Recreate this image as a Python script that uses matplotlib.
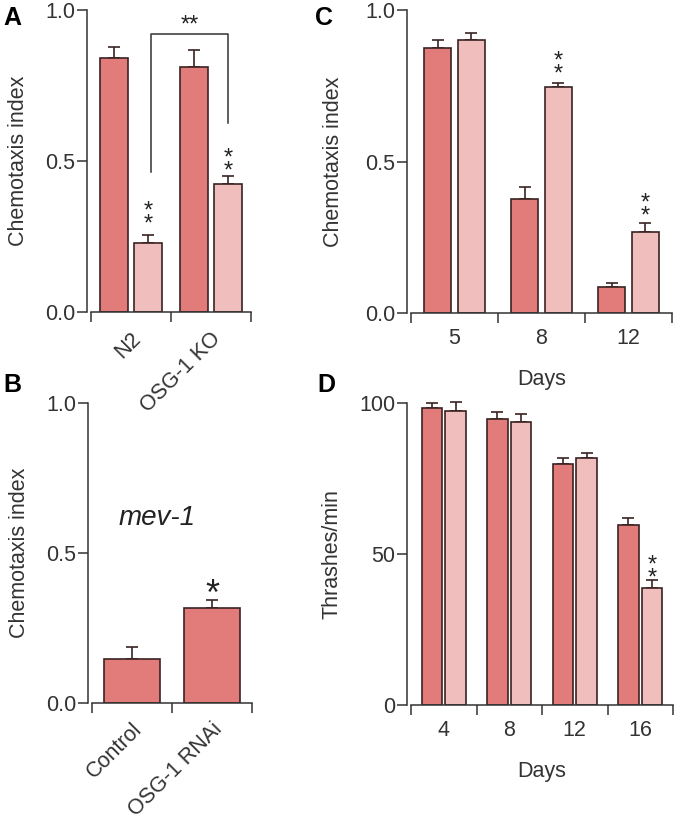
import numpy as np
import matplotlib
matplotlib.use('Agg')
import matplotlib.pyplot as plt

plt.rcParams['font.family'] = ['Liberation Sans', 'DejaVu Sans']

# Panel A - chemotaxis index
a_groups = ['N2', 'OSG-1 KO']
a_dark = [0.84, 0.81]
a_dark_err = [0.037, 0.058]
a_light = [0.228, 0.424]
a_light_err = [0.027, 0.026]

# Panel B - mev-1 background
b_groups = ['Control', 'OSG-1 RNAi']
b_vals = [0.147, 0.316]
b_err = [0.04, 0.027]

# Panel C - chemotaxis index by day
c_days = ['5', '8', '12']
c_dark = [0.875, 0.376, 0.086]
c_dark_err = [0.025, 0.039, 0.014]
c_light = [0.90, 0.745, 0.268]
c_light_err = [0.024, 0.015, 0.028]

# Panel D - thrashing by day
d_days = ['4', '8', '12', '16']
d_dark = [98.3, 94.7, 79.8, 59.6]
d_dark_err = [1.7, 2.3, 2.0, 2.4]
d_light = [97.4, 93.7, 81.8, 38.7]
d_light_err = [3.0, 2.7, 1.6, 2.7]

DARK = '#e27c7a'
LIGHT = '#f1bebe'
EDGE = '#3a2222'
TXT = '#333333'
W, H = 677, 827
FS = 15.5

fig = plt.figure(figsize=(W / 100, H / 100), dpi=100)


def px_axes(x0, x1, ytop, ybot):
    return fig.add_axes([x0 / W, 1 - ybot / H, (x1 - x0) / W, (ybot - ytop) / H])


def style(ax, ngroups, ymax, yticks, yticklabels, labels, rotate=False):
    ax.set_xlim(0, ngroups)
    ax.set_ylim(0, ymax)
    for s in ['top', 'right']:
        ax.spines[s].set_visible(False)
    ax.spines['left'].set_position(('outward', 3))
    ax.spines['left'].set_bounds(0, ymax)
    for s in ['left', 'bottom']:
        ax.spines[s].set_color(TXT)
        ax.spines[s].set_linewidth(1.1)
    ax.set_yticks(yticks)
    ax.set_yticklabels(yticklabels)
    ax.set_xticks(np.arange(ngroups + 1))
    ax.set_xticklabels([])
    ax.tick_params(axis='y', length=7, width=1.1, color=TXT, labelsize=FS, labelcolor=TXT, pad=1.5)
    ax.tick_params(axis='x', which='major', length=7, width=1.1, color=TXT)
    centers = np.arange(ngroups) + 0.5
    if rotate:
        # rotated category names, hung from the group centres
        for xc, lab in zip(centers, labels):
            ax.annotate(lab, (xc, 0), xycoords=('data', 'axes fraction'),
                        xytext=(5, -17), textcoords='offset points',
                        rotation=45, ha='right', va='center', rotation_mode='anchor',
                        fontsize=FS, color=TXT, annotation_clip=False)
    else:
        ax.set_xticks(centers, minor=True)
        ax.set_xticklabels(labels, minor=True)
        ax.tick_params(axis='x', which='minor', length=0, labelsize=FS, labelcolor=TXT, pad=11)
    ax.patch.set_alpha(0)


def pair_bars(ax, dark, dark_err, light, light_err, off, width):
    x = np.arange(len(dark)) + 0.5
    for xs, v, e, c in [(x - off, dark, dark_err, DARK), (x + off, light, light_err, LIGHT)]:
        ax.errorbar(xs, v, yerr=[np.zeros(len(v)), e], fmt='none', ecolor=EDGE,
                    elinewidth=1.2, capsize=4, capthick=1.2, clip_on=False, zorder=1)
        ax.bar(xs, v, width=width, color=c, edgecolor=EDGE, linewidth=1.2, zorder=2)
    return x


def star(ax, x, y, s='*', size=17):
    # an asterisk sits high in its glyph box, so pull it down onto the anchor
    ax.annotate(s, (x, y), xytext=(0, -0.34 * size), textcoords='offset points',
                ha='center', va='center', fontsize=size, color='#222222', linespacing=0.5)


def stars(ax, x, y):
    # two stacked asterisks
    star(ax, x, y, '*\n*')


# A
axA = px_axes(91, 251, 10, 312)
xa = pair_bars(axA, a_dark, a_dark_err, a_light, a_light_err, 0.218, 0.35)
style(axA, 2, 1.0, [0, 0.5, 1.0], ['0.0', '0.5', '1.0'], a_groups, rotate=True)
axA.set_ylabel('Chemotaxis index', fontsize=FS, color=TXT, labelpad=11.5)
stars(axA, xa[0] + 0.218, 0.338)
stars(axA, xa[1] + 0.218, 0.513)
bl, br = xa[0] + 0.25, xa[1] + 0.218
axA.plot([bl, bl, br, br], [0.464, 0.92, 0.92, 0.626], color=TXT, lw=1.1, clip_on=False)
axA.annotate('**', ((bl + br) / 2, 0.975), xytext=(0, -5.5), textcoords='offset points',
             ha='center', va='center', fontsize=17, color='#222222')

# B
axB = px_axes(92, 252, 403, 703)
xb = np.arange(len(b_vals)) + 0.5
axB.errorbar(xb, b_vals, yerr=[np.zeros(2), b_err], fmt='none', ecolor=EDGE,
             elinewidth=1.2, capsize=4, capthick=1.2, zorder=1)
axB.bar(xb, b_vals, width=0.71, color=DARK, edgecolor=EDGE, linewidth=1.2, zorder=2)
style(axB, 2, 1.0, [0, 0.5, 1.0], ['0.0', '0.5', '1.0'], b_groups, rotate=True)
axB.set_ylabel('Chemotaxis index', fontsize=FS, color=TXT, labelpad=11.5)
axB.text(0.81, 0.617, 'mev-1', fontsize=20, style='italic', ha='center', va='center', color='#222222')
star(axB, xb[1], 0.40, size=26)

# C
axC = px_axes(411, 672, 10, 313)
xc = pair_bars(axC, c_dark, c_dark_err, c_light, c_light_err, 0.19, 0.31)
style(axC, 3, 1.0, [0, 0.5, 1.0], ['0.0', '0.5', '1.0'], c_days)
axC.set_ylabel('Chemotaxis index', fontsize=FS, color=TXT, labelpad=15)
axC.set_xlabel('Days', fontsize=FS, color=TXT, labelpad=14)
stars(axC, xc[1] + 0.19, 0.835)
stars(axC, xc[2] + 0.19, 0.366)

# D
axD = px_axes(411, 673, 403, 705)
xd = pair_bars(axD, d_dark, d_dark_err, d_light, d_light_err, 0.18, 0.31)
style(axD, 4, 100, [0, 50, 100], ['0', '50', '100'], d_days)
axD.set_ylabel('Thrashes/min', fontsize=FS, color=TXT, labelpad=12)
axD.set_xlabel('Days', fontsize=FS, color=TXT, labelpad=14)
stars(axD, xd[3] + 0.18, 46.7)

# panel letters
for lab, x, y in [('A', 3, 6), ('B', 3, 373), ('C', 315, 6), ('D', 317, 373)]:
    fig.text(x / W, 1 - y / H, lab, fontsize=18, fontweight='bold', ha='left', va='top')

fig.savefig('out.png', dpi=100)
